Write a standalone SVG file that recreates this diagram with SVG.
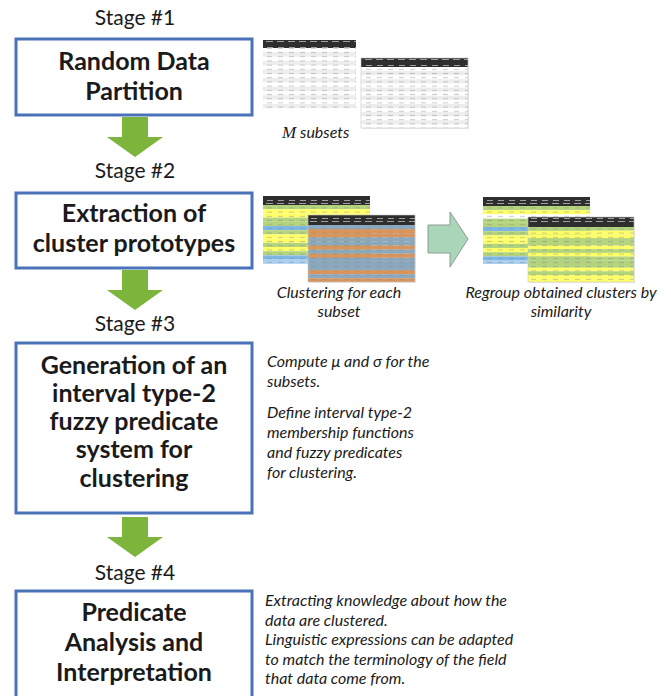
<svg xmlns="http://www.w3.org/2000/svg" width="671" height="696" viewBox="0 0 671 696">
<style>
.stage{font-family:Lato,"Liberation Sans",sans-serif;font-size:21px;fill:#1a1a1a;text-anchor:middle}
.title{font-family:Lato,"Liberation Sans",sans-serif;font-size:25px;font-weight:bold;fill:#1a1a1a;text-anchor:middle}
.box{fill:#fff;stroke:#4a72b8;stroke-width:3}
.note{font-family:Lato,"Liberation Sans",sans-serif;font-size:16px;font-style:italic;fill:#1a1a1a}
.cap{font-family:Lato,"Liberation Sans",sans-serif;font-size:16px;font-style:italic;fill:#1a1a1a;text-anchor:middle}
.hdr{fill:#2e2e2e}
.w{fill:#ffffff}.g{fill:#ededed}
.gr{fill:#b3d47c}.ye{fill:#ffff66}.bl{fill:#7db7e6}.lb{fill:#a9d0f0}
.or{fill:#d9955c}.bg{fill:#8ba8bd}
.tex{fill:url(#cells)}
.htex{fill:url(#hcells)}
.frame{fill:none;stroke:#c8c8c8;stroke-width:0.6}
</style>
<defs>
<pattern id="cells" width="11" height="4.2" patternUnits="userSpaceOnUse">
<rect x="3" y="1.6" width="5" height="1" fill="#8a8a8a" opacity="0.45"/>
</pattern>
<pattern id="hcells" width="11" height="9" patternUnits="userSpaceOnUse">
<rect x="3" y="2" width="6" height="1" fill="#cfcfcf" opacity="0.7"/>
<rect x="2" y="5" width="7" height="1" fill="#cfcfcf" opacity="0.7"/>
</pattern>
<path id="down" d="M-13,0 H13 V20 H28 L0,40 L-28,20 H-13 Z" fill="#7db43b"/>
</defs>

<g id="connectors">
<use href="#down" x="135" y="117"/>
<use href="#down" x="135" y="270"/>
<use href="#down" x="135" y="517"/>
<polygon points="428,225 450,225 450,212 468,239 450,267 450,253 428,253" fill="#a9d6b8" stroke="#8c9c91" stroke-width="1"/>
</g>

<g id="stage1">
<text class="stage" x="135" y="25">Stage #1</text>
<rect class="box" x="16" y="39" width="236" height="76"/>
<text class="title" x="134" y="70">Random Data</text>
<text class="title" x="134" y="100">Partition</text>
</g>

<g id="stage2">
<text class="stage" x="135" y="178">Stage #2</text>
<rect class="box" x="16" y="193" width="236" height="75"/>
<text class="title" x="134" y="222">Extraction of</text>
<text class="title" x="134" y="252">cluster prototypes</text>
</g>

<g id="stage3">
<text class="stage" x="135" y="331">Stage #3</text>
<rect class="box" x="16" y="343" width="236" height="170"/>
<text class="title" x="134" y="374">Generation of an</text>
<text class="title" x="134" y="402">interval type-2</text>
<text class="title" x="134" y="430">fuzzy predicate</text>
<text class="title" x="134" y="458">system for</text>
<text class="title" x="134" y="487">clustering</text>
</g>

<g id="stage4">
<text class="stage" x="135" y="580">Stage #4</text>
<rect class="box" x="16" y="591" width="236" height="110"/>
<text class="title" x="134" y="621">Predicate</text>
<text class="title" x="134" y="651">Analysis and</text>
<text class="title" x="134" y="681">Interpretation</text>
</g>

<g id="subsets">
<g id="table1a">
<rect class="hdr" x="263" y="40" width="93" height="8"/>
<rect class="htex" x="263" y="40" width="93" height="8"/>
<rect class="w" x="263" y="48" width="93" height="60"/>
<rect class="g" x="263" y="52.3" width="93" height="4.3"/>
<rect class="g" x="263" y="60.9" width="93" height="4.3"/>
<rect class="g" x="263" y="69.5" width="93" height="4.3"/>
<rect class="g" x="263" y="78.1" width="93" height="4.3"/>
<rect class="g" x="263" y="86.7" width="93" height="4.3"/>
<rect class="g" x="263" y="95.3" width="93" height="4.3"/>
<rect class="g" x="263" y="103.9" width="93" height="4.1"/>
<rect class="tex" x="263" y="48" width="93" height="60"/>
</g>
<g id="table1b">
<rect x="362" y="59" width="107" height="70" fill="#000" opacity="0.08"/>
<rect class="hdr" x="361" y="58" width="107" height="9"/>
<rect class="htex" x="361" y="58" width="107" height="9"/>
<rect class="w" x="361" y="67" width="107" height="61"/>
<rect class="g" x="361" y="71.1" width="107" height="4.1"/>
<rect class="g" x="361" y="79.3" width="107" height="4.1"/>
<rect class="g" x="361" y="87.5" width="107" height="4.1"/>
<rect class="g" x="361" y="95.7" width="107" height="4.1"/>
<rect class="g" x="361" y="103.9" width="107" height="4.1"/>
<rect class="g" x="361" y="112.1" width="107" height="4.1"/>
<rect class="g" x="361" y="120.3" width="107" height="4.1"/>
<rect class="tex" x="361" y="67" width="107" height="61"/>
<rect class="frame" x="361" y="58" width="107" height="70"/>
</g>
<text x="282" y="138" font-family="'Liberation Serif',serif" font-style="italic" font-size="17" fill="#1a1a1a">M</text>
<text class="note" x="300" y="138">subsets</text>
</g>

<g id="clustering">
<g id="table2a">
<rect class="hdr" x="263" y="196" width="107" height="9"/>
<rect class="htex" x="263" y="196" width="107" height="9"/>
<rect class="gr" x="263" y="205" width="107" height="4.2"/>
<rect class="ye" x="263" y="209.2" width="107" height="4.2"/>
<rect class="ye" x="263" y="213.4" width="107" height="4.2"/>
<rect class="gr" x="263" y="217.6" width="107" height="4.2"/>
<rect class="gr" x="263" y="221.8" width="107" height="4.2"/>
<rect class="bl" x="263" y="226" width="107" height="4.2"/>
<rect class="gr" x="263" y="230.2" width="107" height="4.2"/>
<rect class="ye" x="263" y="234.4" width="107" height="4.2"/>
<rect class="ye" x="263" y="238.6" width="107" height="4.2"/>
<rect class="gr" x="263" y="242.8" width="107" height="4.2"/>
<rect class="ye" x="263" y="247" width="107" height="4.2"/>
<rect class="gr" x="263" y="251.2" width="107" height="4.2"/>
<rect class="bl" x="263" y="255.4" width="107" height="4.2"/>
<rect class="lb" x="263" y="259.6" width="107" height="4.2"/>
<rect class="tex" x="263" y="205" width="107" height="58.8"/>
</g>
<g id="table2b">
<rect x="309" y="216" width="107" height="67" fill="#000" opacity="0.08"/>
<rect class="hdr" x="308" y="215" width="107" height="10"/>
<rect class="htex" x="308" y="215" width="107" height="10"/>
<rect class="bg" x="308" y="225" width="107" height="4.1"/>
<rect class="or" x="308" y="229.1" width="107" height="4.1"/>
<rect class="or" x="308" y="233.2" width="107" height="4.1"/>
<rect class="bg" x="308" y="237.3" width="107" height="4.1"/>
<rect class="bg" x="308" y="241.4" width="107" height="4.1"/>
<rect class="or" x="308" y="245.5" width="107" height="4.1"/>
<rect class="bg" x="308" y="249.6" width="107" height="4.1"/>
<rect class="or" x="308" y="253.7" width="107" height="4.1"/>
<rect class="bg" x="308" y="257.8" width="107" height="4.1"/>
<rect class="bg" x="308" y="261.9" width="107" height="4.1"/>
<rect class="bg" x="308" y="266" width="107" height="4.1"/>
<rect class="or" x="308" y="270.1" width="107" height="4.1"/>
<rect class="bg" x="308" y="274.2" width="107" height="4.1"/>
<rect class="or" x="308" y="278.3" width="107" height="3.7"/>
<rect class="tex" x="308" y="225" width="107" height="57"/>
<rect class="frame" x="308" y="215" width="107" height="67"/>
</g>
<text class="cap" x="339" y="298">Clustering for each</text>
<text class="cap" x="339" y="317">subset</text>
</g>

<g id="regroup">
<g id="table3a">
<rect class="hdr" x="483" y="197" width="107" height="9"/>
<rect class="htex" x="483" y="197" width="107" height="9"/>
<rect class="gr" x="483" y="206" width="107" height="4.2"/>
<rect class="ye" x="483" y="210.2" width="107" height="4.2"/>
<rect class="w" x="483" y="214.4" width="107" height="4.2"/>
<rect class="gr" x="483" y="218.6" width="107" height="4.2"/>
<rect class="gr" x="483" y="222.8" width="107" height="4.2"/>
<rect class="bl" x="483" y="227" width="107" height="4.2"/>
<rect class="gr" x="483" y="231.2" width="107" height="4.2"/>
<rect class="ye" x="483" y="235.4" width="107" height="4.2"/>
<rect class="ye" x="483" y="239.6" width="107" height="4.2"/>
<rect class="gr" x="483" y="243.8" width="107" height="4.2"/>
<rect class="ye" x="483" y="248" width="107" height="4.2"/>
<rect class="gr" x="483" y="252.2" width="107" height="4.2"/>
<rect class="bl" x="483" y="256.4" width="107" height="4.2"/>
<rect class="lb" x="483" y="260.6" width="107" height="3.4"/>
<rect class="tex" x="483" y="206" width="107" height="58"/>
</g>
<g id="table3b">
<rect x="529" y="218" width="106" height="65" fill="#000" opacity="0.08"/>
<rect class="hdr" x="528" y="217" width="106" height="10"/>
<rect class="htex" x="528" y="217" width="106" height="10"/>
<rect class="gr" x="528" y="227" width="106" height="3.7"/>
<rect class="ye" x="528" y="230.7" width="106" height="3.7"/>
<rect class="ye" x="528" y="234.4" width="106" height="3.7"/>
<rect class="gr" x="528" y="238.1" width="106" height="3.7"/>
<rect class="gr" x="528" y="241.8" width="106" height="3.7"/>
<rect class="ye" x="528" y="245.5" width="106" height="3.7"/>
<rect class="gr" x="528" y="249.2" width="106" height="3.7"/>
<rect class="ye" x="528" y="252.9" width="106" height="3.7"/>
<rect class="gr" x="528" y="256.6" width="106" height="3.7"/>
<rect class="gr" x="528" y="260.3" width="106" height="3.7"/>
<rect class="gr" x="528" y="264" width="106" height="3.7"/>
<rect class="ye" x="528" y="267.7" width="106" height="3.7"/>
<rect class="gr" x="528" y="271.4" width="106" height="3.7"/>
<rect class="ye" x="528" y="275.1" width="106" height="3.7"/>
<rect class="ye" x="528" y="278.8" width="106" height="3.2"/>
<rect class="tex" x="528" y="227" width="106" height="55"/>
<rect class="frame" x="528" y="217" width="106" height="65"/>
</g>
<text class="cap" x="561" y="298">Regroup obtained clusters by</text>
<text class="cap" x="561" y="317">similarity</text>
</g>

<g id="note3">
<text class="note" x="267" y="367">Compute μ and σ for the</text>
<text class="note" x="267" y="387">subsets.</text>
<text class="note" x="267" y="418">Define interval type-2</text>
<text class="note" x="267" y="438">membership functions</text>
<text class="note" x="267" y="458">and fuzzy predicates</text>
<text class="note" x="267" y="478">for clustering.</text>
</g>

<g id="note4">
<text class="note" x="265" y="606">Extracting knowledge about how the</text>
<text class="note" x="265" y="626">data are clustered.</text>
<text class="note" x="265" y="645">Linguistic expressions can be adapted</text>
<text class="note" x="265" y="665">to match the terminology of the field</text>
<text class="note" x="265" y="684">that data come from.</text>
</g>
</svg>
